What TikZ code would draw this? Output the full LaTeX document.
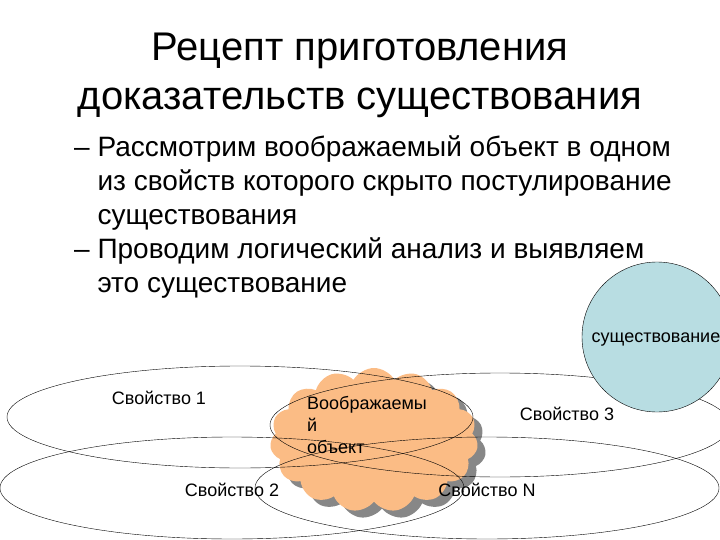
\documentclass[tikz,border=0pt]{standalone}
\usepackage{fontspec}
\setmainfont{Liberation Sans}
\usetikzlibrary{shapes.symbols,shadows}
\definecolor{cloudOrange}{RGB}{251,188,133}
\definecolor{shadowGray}{RGB}{135,135,135}
\definecolor{circleBlue}{RGB}{184,221,226}

\begin{document}
\begin{tikzpicture}[x=1pt,y=-1pt,
    proplabel/.style={font=\fontsize{18}{21}\selectfont, inner sep=0pt},
    propring/.style={thin}]
  \useasboundingbox (0,0) rectangle (720,540);
  % title and text
  \node[align=center, font=\fontsize{40}{49}\selectfont] (title) at (360,75)
    {Рецепт приготовления\\доказательств существования};
  \node[align=left, anchor=north west, inner sep=0pt,
        font=\fontsize{28}{34}\selectfont] (bullets) at (74,136)
    {– Рассмотрим воображаемый объект в одном\\
     \phantom{– }из свойств которого скрыто постулирование\\
     \phantom{– }существования\\
     – Проводим логический анализ и выявляем\\
     \phantom{– }это существование};
  % the object
  \node[cloud, cloud puffs=15, cloud puff arc=120, cloud ignores aspect,
        minimum width=208pt, minimum height=144pt, inner sep=0pt,
        fill=cloudOrange,
        drop shadow={shadow xshift=8pt, shadow yshift=-7pt, fill=shadowGray, opacity=1}]
    (object) at (374,440) {};
  \node[align=left, anchor=north west, inner sep=0pt,
        font=\fontsize{18}{22}\selectfont] (objtext) at (307,396)
    {Воображаемы\\й\\объект};
  % properties
  \draw[propring] (240,417) ellipse [x radius=233pt, y radius=51pt];
  \draw[propring] (500,425) ellipse [x radius=230pt, y radius=52pt];
  \draw[propring] (232,488) ellipse [x radius=232pt, y radius=51pt];
  \draw[propring] (487,488) ellipse [x radius=232pt, y radius=51pt];
  \node[circle, draw, thin, fill=circleBlue, minimum size=150pt] (exist) at (657,337) {};
  \node[font=\fontsize{18}{21}\selectfont, inner sep=0pt] (existtext) at (656,340) {существование};
  \node[proplabel] (prop1) at (159,398) {Свойство 1};
  \node[proplabel] (prop2) at (232,490) {Свойство 2};
  \node[proplabel] (prop3) at (567,414) {Свойство 3};
  \node[proplabel] (propN) at (487,490) {Свойство N};
\end{tikzpicture}
\end{document}
